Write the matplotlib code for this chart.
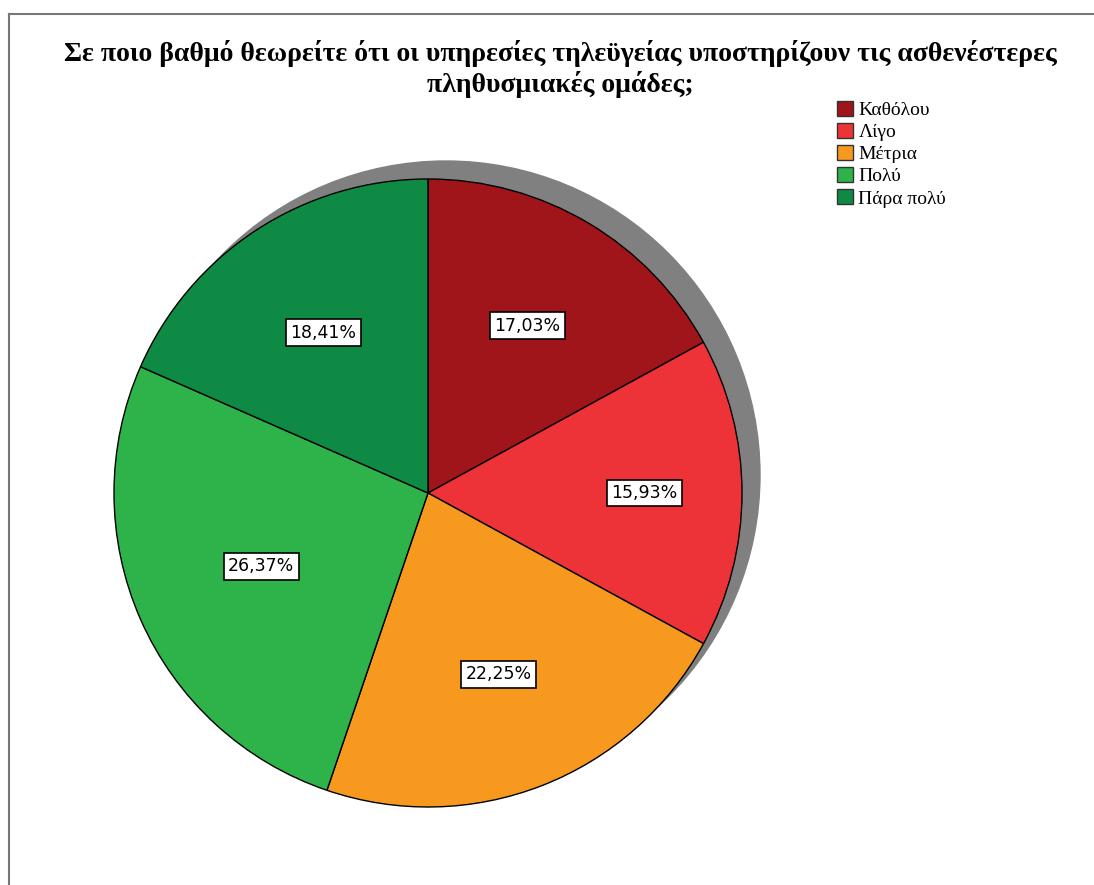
import matplotlib.pyplot as plt
from matplotlib.patches import Circle, Patch
from matplotlib.lines import Line2D
import numpy as np

title = "Σε ποιο βαθμό θεωρείτε ότι οι υπηρεσίες τηλεϋγείας υποστηρίζουν τις ασθενέστερες\nπληθυσμιακές ομάδες;"
categories = ["Καθόλου", "Λίγο", "Μέτρια", "Πολύ", "Πάρα πολύ"]
percents = [17.03, 15.93, 22.25, 26.37, 18.41]
colors = ["#A0151A", "#EE3338", "#F7991F", "#2DB34A", "#0F8A44"]

W, H = 1094, 885
fig = plt.figure(figsize=(W / 100, H / 100), dpi=100)

# frame lines (left and top only are visible)
fig.add_artist(Line2D([9 / W, 9 / W], [0, 1 - 14 / H], color="#777777", lw=1.5))
fig.add_artist(Line2D([9 / W, 1093 / W], [1 - 14 / H, 1 - 14 / H], color="#777777", lw=1.5))

fig.text(560 / W, 1 - 69 / H, title, ha="center", va="center", fontsize=20,
         fontweight="bold", family="Liberation Serif", linespacing=1.2)

# pie axes: centre (428, 493), radius 314 px
cx, cy, r = 428, 493, 314
ax = fig.add_axes([(cx - r) / W, (H - cy - r) / H, 2 * r / W, 2 * r / H])

off = 18 / r
ax.add_patch(Circle((off, off), 1, color="#808080", zorder=0, clip_on=False))

wedges, texts = ax.pie(percents, colors=colors, startangle=90, counterclock=False,
                       wedgeprops=dict(edgecolor="black", linewidth=1))
for w in wedges:
    w.set_zorder(1)

# label distance from centre, per slice
label_dist = [0.62, 0.69, 0.62, 0.58, 0.61]
start = 90.0
for p, d in zip(percents, label_dist):
    mid = np.deg2rad(start - p * 3.6 / 2)
    start -= p * 3.6
    ax.text(d * np.cos(mid), d * np.sin(mid), f"{p:.2f}%".replace(".", ","),
            ha="center", va="center", fontsize=12.5, zorder=5,
            bbox=dict(boxstyle="square,pad=0.25", fc="white", ec="black", lw=1.2))

ax.set_xlim(-1, 1)
ax.set_ylim(-1, 1)
ax.set_aspect("equal")
ax.axis("off")

handles = [Patch(facecolor=c, edgecolor="#333333", label=l) for c, l in zip(colors, categories)]
fig.legend(handles=handles, loc="upper left", bbox_to_anchor=(837 / W, 1 - 101 / H),
           frameon=False, prop=dict(family="Liberation Serif", size=14),
           handlelength=0.8, handleheight=0.8, handletextpad=0.3, labelspacing=0.2,
           borderaxespad=0, borderpad=0)

fig.savefig("out.png", dpi=100)
